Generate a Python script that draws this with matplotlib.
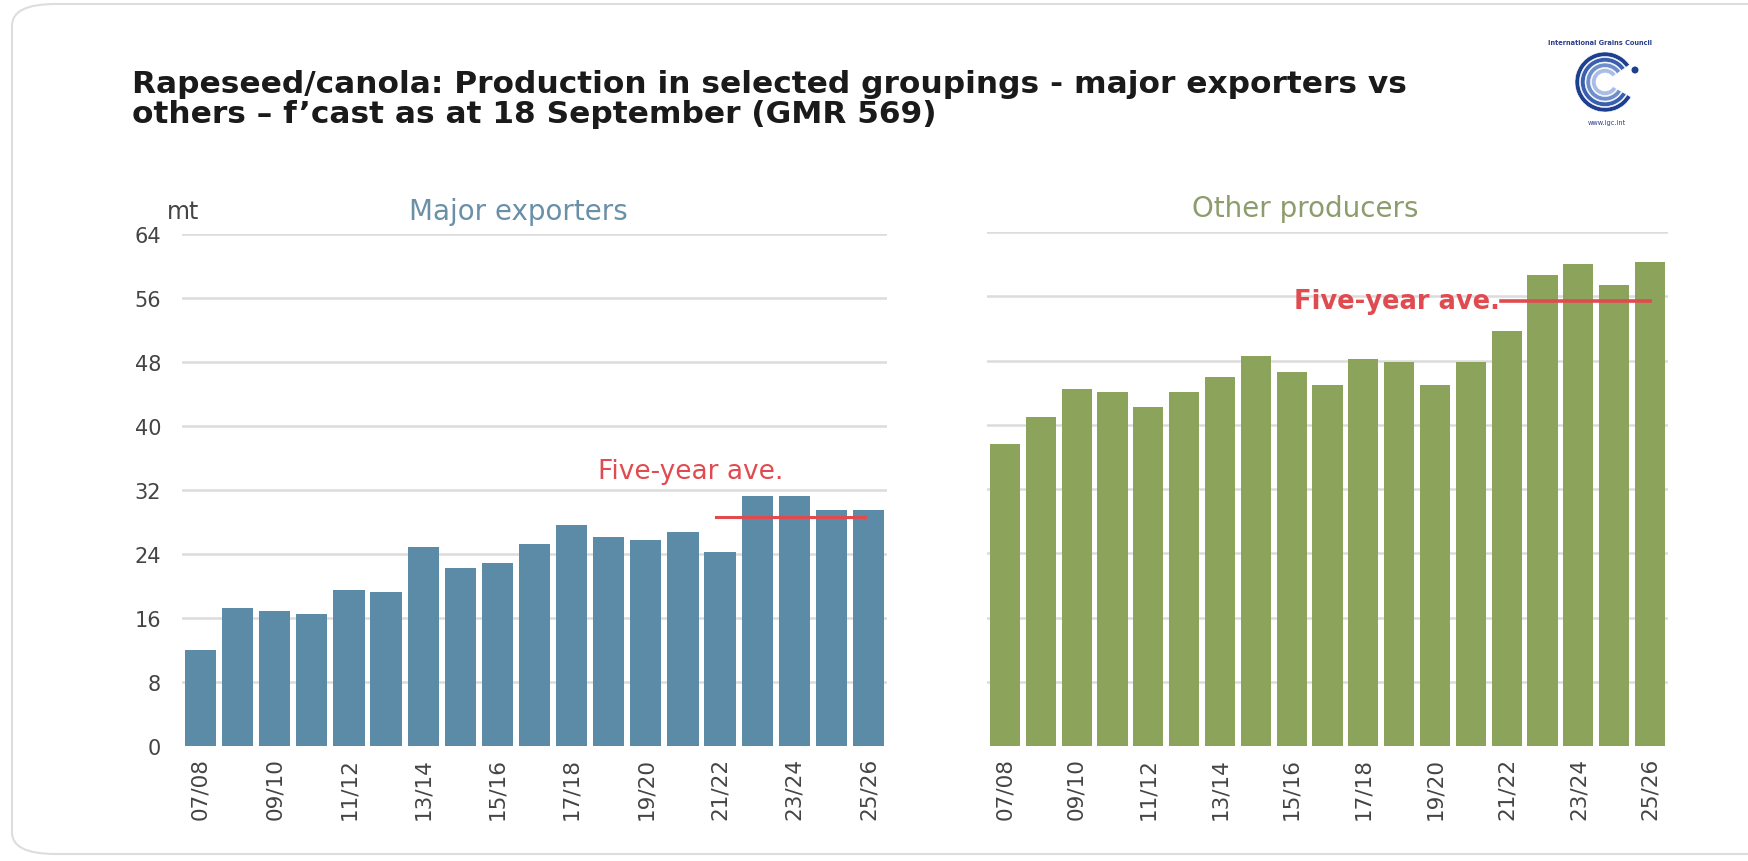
import numpy as np
import matplotlib.pyplot as plt
from matplotlib.patches import FancyBboxPatch, Wedge, Circle

seasons = ['07/08', '08/09', '09/10', '10/11', '11/12', '12/13', '13/14', '14/15', '15/16', '16/17',
           '17/18', '18/19', '19/20', '20/21', '21/22', '22/23', '23/24', '24/25', '25/26']
major = [12.0, 17.3, 16.9, 16.5, 19.5, 19.2, 24.9, 22.2, 22.9, 25.3,
         27.6, 26.1, 25.8, 26.8, 24.2, 31.2, 31.2, 29.5, 29.5]
others = [37.6, 41.0, 44.4, 44.1, 42.2, 44.1, 46.0, 48.5, 46.6, 44.9,
          48.2, 47.8, 44.9, 47.8, 51.7, 58.6, 60.0, 57.4, 60.3]
major_ave = 28.6
others_ave = 55.4
yticks = [0, 8, 16, 24, 32, 40, 48, 56, 64]

blue = '#5b8ba6'
green = '#8ba35a'
red = '#e04b50'
grid_c = '#dcdcdc'
txt_c = '#444444'

fig = plt.figure(figsize=(17.49, 8.62), dpi=100)
fig.patch.set_facecolor('white')

# rounded frame round the slide (right side runs off the edge)
frame = FancyBboxPatch((12 / 1749, 7 / 862), 1850 / 1749, 850 / 862,
                       boxstyle='round,pad=0,rounding_size=0.025',
                       transform=fig.transFigure, facecolor='none',
                       edgecolor='#dddddd', linewidth=1.5, zorder=-1)
fig.patches.append(frame)

fig.text(132 / 1749, 1 - 70 / 862,
         'Rapeseed/canola: Production in selected groupings - major exporters vs\n'
         'others \u2013 f\u2019cast as at 18 September (GMR 569)',
         fontsize=22.5, fontweight='bold', color='#1a1a1a', va='top', ha='left',
         linespacing=1.05, family='DejaVu Sans')

x = np.arange(len(seasons))
ax1 = fig.add_axes([182 / 1749, 1 - 747 / 862, 705 / 1749, 512 / 862])
ax2 = fig.add_axes([987 / 1749, 1 - 747 / 862, 681 / 1749, 514 / 862])

for ax, vals, col in [(ax1, major, blue), (ax2, others, green)]:
    ax.bar(x, vals, width=0.84, color=col, zorder=3)
    ax.set_xlim(-0.5, len(seasons) - 0.5)
    ax.set_ylim(0, 64)
    ax.set_yticks(yticks)
    for yv in yticks[1:]:
        ax.axhline(yv, color=grid_c, lw=1.8, zorder=1)
    ax.set_xticks(x[::2])
    ax.set_xticklabels(seasons[::2], rotation=90, fontsize=15.5, color=txt_c)
    ax.tick_params(length=0)
    ax.tick_params(axis='x', pad=8)
    for s in ax.spines.values():
        s.set_visible(False)
    ax.set_facecolor('none')

ax1.set_yticklabels([str(v) for v in yticks], fontsize=15, color=txt_c)
ax1.tick_params(axis='y', pad=15)
ax2.set_yticklabels([])

# five-year averages
ax1.plot([13.9, 17.9], [major_ave, major_ave], color=red, lw=2.2, zorder=4)
ax1.text(13.2, 34.4, 'Five-year ave.', color=red, fontsize=19, ha='center', va='center')
ax2.plot([13.85, 18.0], [others_ave, others_ave], color=red, lw=2.6, zorder=4)
ax2.text(13.8, others_ave, 'Five-year ave.', color=red, fontsize=18.5, ha='right', va='center',
         fontweight='bold')

fig.text(167 / 1749, 1 - 212 / 862, 'mt', fontsize=17, color=txt_c, va='center')
fig.text(518 / 1749, 1 - 212 / 862, 'Major exporters', fontsize=20, color='#6a90a8',
         ha='center', va='center')
fig.text(1305 / 1749, 1 - 209 / 862, 'Other producers', fontsize=20, color='#8c9c6c',
         ha='center', va='center')

# small council logo
lg = fig.add_axes([1525 / 1749, 1 - 135 / 862, 170 / 1749, 100 / 862])
lg.set_xlim(0, 170)
lg.set_ylim(0, 100)
lg.axis('off')
lg.text(75, 92, 'International Grains Council', fontsize=4.8, color='#2b3f8f',
        ha='center', va='center', fontweight='bold')
shades = ['#1d3f8f', '#3a5fae', '#6f8fcc', '#a9bde6']
for i, sh in enumerate(shades):
    lg.add_patch(Wedge((80, 52), 30 - i * 5.5, 35, 330, width=4.5, facecolor=sh,
                       edgecolor='white', lw=0.4))
lg.add_patch(Circle((110, 64), 2.8, color='#1d3f8f'))
lg.text(82, 12, 'www.igc.int', fontsize=4.8, color='#2b3f8f', ha='center', va='center')

plt.savefig('out.png', dpi=100)
